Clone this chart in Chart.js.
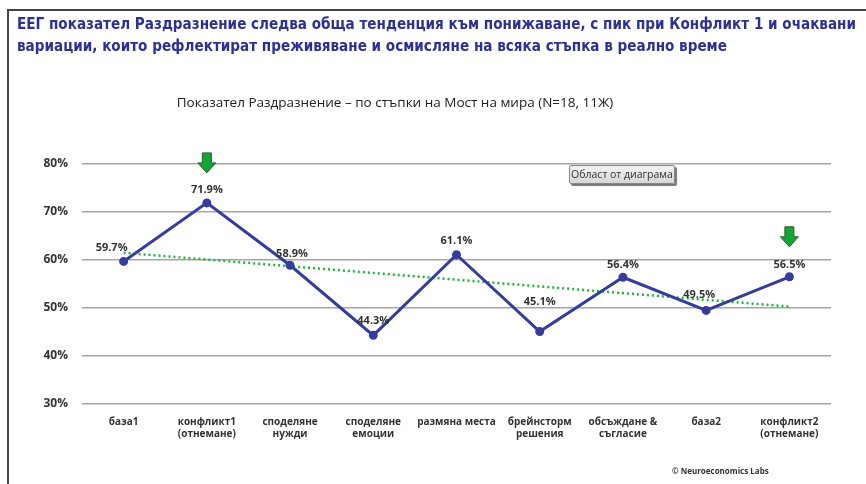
<!DOCTYPE html>
<html lang="bg">
<head>
<meta charset="utf-8">
<title>Показател Раздразнение</title>
<script src="https://cdn.jsdelivr.net/npm/chart.js"></script>
<style>
  body { margin: 0; background: #fff; width: 866px; height: 484px; overflow: hidden; position: relative; font-family: "Open Sans", "Noto Sans", sans-serif; }
  #frame { position: absolute; left: 7px; top: 9px; right: -10px; bottom: -10px; border-top: 2px solid #444; border-left: 2px solid #444; }
  #head { position: absolute; left: 17px; top: 13px; color: #2e3192; font: bold 16.5px "DejaVu Sans Condensed", sans-serif; line-height: 22px;
          white-space: nowrap; transform: scaleX(0.915); transform-origin: left top; }
  #sub { position: absolute; left: 0; width: 790px; top: 93px; text-align: center; color: #222; font-size: 13.5px; }
  #tip { position: absolute; left: 569px; top: 165px; width: 104px; height: 17px; border: 1px solid #888; border-radius: 2px;
         background: linear-gradient(#f4f4f4, #d6d6d6); box-shadow: 2px 2px 1px #777; font-size: 10.5px; line-height: 17px; text-align: center; color: #333; }
  #copy { position: absolute; left: 672px; top: 465px; font-size: 8px; font-weight: bold; color: #333; }
  #wrap { position: absolute; left: 0; top: 0; width: 866px; height: 484px; }
</style>
</head>
<body>
<div id="frame"></div>
<div id="wrap"><canvas id="myChart" width="866" height="484"></canvas></div>
<div id="head">ЕЕГ показател Раздразнение следва обща тенденция към понижаване, с пик при Конфликт 1 и очаквани<br>вариации, които рефлектират преживяване и осмисляне на всяка стъпка в реално време</div>
<div id="sub">Показател Раздразнение – по стъпки на Мост на мира (N=18, 11Ж)</div>
<div id="tip">Област от диаграма</div>
<div id="copy">© Neuroeconomics Labs</div>
<script>
// steps of the "bridge of peace"
var steps = [
	['база1'], ['конфликт1', '(отнемане)'], ['споделяне', 'нужди'], ['споделяне', 'емоции'],
	['размяна места'], ['брейнсторм', 'решения'], ['обсъждане &', 'съгласие'], ['база2'], ['конфликт2', '(отнемане)']
];
var irritation = [59.7, 71.9, 58.9, 44.3, 61.1, 45.1, 56.4, 49.5, 56.5];
// dotted trend line, ends
var trend = [61.5, null, null, null, null, null, null, null, 50.3];
var yTicks = [30, 40, 50, 60, 70, 80];
var arrowAt = [1, 8];

// where each value label sits relative to its point (dx, dy)
var labelPos = [[-12, -14], [0, -13], [2, -11], [0, -15], [0, -14], [0, -30], [0, -12], [-7, -16], [0, -12]];

var labelsPlugin = {
	id: 'valueLabels',
	afterDatasetsDraw: function(chart) {
		var c = chart.ctx;
		var pts = chart.getDatasetMeta(0).data;
		c.save();
		c.font = 'bold 11px "Open Sans", sans-serif';
		c.fillStyle = '#333';
		c.textAlign = 'center';
		c.textBaseline = 'middle';
		pts.forEach(function(p, i) {
			c.fillText(irritation[i].toFixed(1) + '%', p.x + labelPos[i][0], p.y + labelPos[i][1]);
		});
		// green arrows
		arrowAt.forEach(function(i) {
			var x = pts[i].x, b = pts[i].y - 30, t = b - 20;
			c.beginPath();
			c.moveTo(x - 4.5, t); c.lineTo(x + 4.5, t); c.lineTo(x + 4.5, t + 10);
			c.lineTo(x + 9, t + 10); c.lineTo(x, b); c.lineTo(x - 9, t + 10);
			c.lineTo(x - 4.5, t + 10); c.closePath();
			c.fillStyle = '#13a538';
			c.fill();
			c.lineWidth = 1;
			c.strokeStyle = '#2f5a2a';
			c.stroke();
		});
		c.restore();
	}
};

new Chart(document.getElementById('myChart'), {
	type: 'line',
	data: {
		labels: steps,
		datasets: [{
			data: irritation,
			borderColor: '#343d9c',
			backgroundColor: '#343d9c',
			borderWidth: 3,
			pointRadius: 3,
			tension: 0
		}, {
			data: trend,
			spanGaps: true,
			borderColor: '#1fb43c',
			borderWidth: 2.5,
			borderDash: [2, 3],
			pointRadius: 0
		}]
	},
	options: {
		responsive: false,
		animation: false,
		devicePixelRatio: 1,
		layout: { padding: { left: 0, right: 35, top: 164, bottom: 0 } },
		plugins: { legend: { display: false }, tooltip: { enabled: false } },
		scales: {
			x: {
				offset: true,
				grid: { display: false, offset: true },
				border: { display: false },
				ticks: { color: '#333', font: { size: 10, weight: 'bold', family: '"Open Sans", sans-serif' }, maxRotation: 0, autoSkip: false, padding: 4 },
				afterFit: function(s) { s.height = 80; }
			},
			y: {
				min: 30, max: 80,
				afterBuildTicks: function(s) { s.ticks = yTicks.map(function(v) { return { value: v }; }); },
				grid: { color: '#a6a6a6', lineWidth: 1.5, drawTicks: false },
				border: { display: false },
				ticks: { color: '#333', padding: 14, font: { size: 12, weight: 'bold', family: '"Open Sans", sans-serif' },
					callback: function(v) { return v + '%'; } },
				afterFit: function(s) { s.width = 82; }
			}
		}
	},
	plugins: [labelsPlugin]
});
</script>
</body>
</html>
